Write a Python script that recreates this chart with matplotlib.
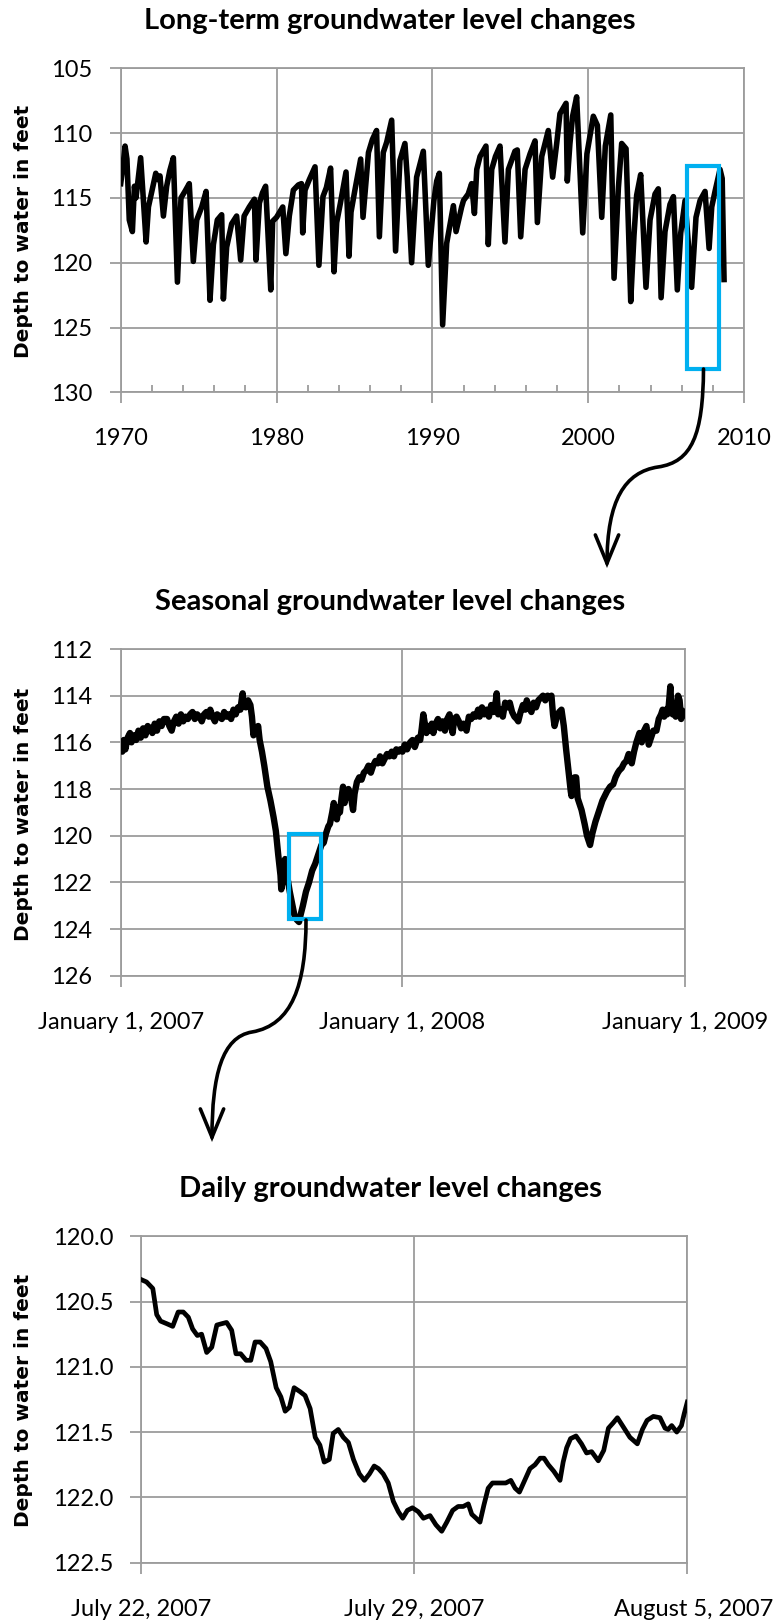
import numpy as np
import matplotlib
matplotlib.use('Agg')
import matplotlib.pyplot as plt
from matplotlib.path import Path
from matplotlib.patches import FancyArrowPatch, Rectangle
from matplotlib.ticker import MultipleLocator, FormatStrFormatter
import matplotlib.transforms as mtransforms

plt.rcParams['font.family'] = ['Lato', 'DejaVu Sans']

# ---------------- data ----------------
titles = ["Long-term groundwater level changes",
          "Seasonal groundwater level changes",
          "Daily groundwater level changes"]
ylabel = "Depth to water in feet"

# Panel 1: long-term (decimal year, depth to water in feet)
lt_year = [1970.00, 1970.15, 1970.28, 1970.40, 1970.55, 1970.75, 1970.88, 1970.98, 1971.28, 1971.63,
           1971.78, 1972.05, 1972.25, 1972.42, 1972.52, 1972.74, 1972.95, 1973.15, 1973.38, 1973.64,
           1973.87, 1974.12, 1974.40, 1974.66, 1974.88, 1975.20, 1975.48, 1975.73, 1975.95, 1976.20,
           1976.48, 1976.59, 1976.80, 1977.12, 1977.44, 1977.70, 1977.92, 1978.25, 1978.58, 1978.68,
           1978.90, 1979.10, 1979.30, 1979.63, 1979.75, 1980.00, 1980.40, 1980.60, 1980.82, 1981.08,
           1981.40, 1981.60, 1981.68, 1981.83, 1982.10, 1982.47, 1982.72, 1982.98, 1983.20, 1983.47,
           1983.69, 1983.86, 1984.10, 1984.46, 1984.65, 1984.78, 1985.03, 1985.40, 1985.55, 1985.90,
           1986.15, 1986.42, 1986.60, 1986.85, 1987.07, 1987.39, 1987.64, 1987.92, 1988.24, 1988.39,
           1988.67, 1988.99, 1989.42, 1989.74, 1990.10, 1990.28, 1990.45, 1990.66, 1990.92, 1991.13,
           1991.35, 1991.52, 1991.88, 1992.00, 1992.30, 1992.52, 1992.70, 1992.85, 1993.06, 1993.44,
           1993.59, 1993.81, 1994.05, 1994.34, 1994.66, 1994.88, 1995.30, 1995.45, 1995.67, 1995.95,
           1996.27, 1996.59, 1996.74, 1997.02, 1997.23, 1997.44, 1997.72, 1997.98, 1998.19, 1998.58,
           1998.66, 1998.83, 1999.00, 1999.26, 1999.65, 1999.92, 2000.33, 2000.59, 2000.87, 2001.10,
           2001.45, 2001.66, 2001.94, 2002.15, 2002.43, 2002.73, 2002.94, 2003.11, 2003.37, 2003.71,
           2003.97, 2004.29, 2004.50, 2004.68, 2004.93, 2005.25, 2005.47, 2005.72, 2005.94, 2006.22,
           2006.64, 2006.92, 2007.18, 2007.50, 2007.76, 2007.93, 2008.14, 2008.46, 2008.60, 2008.72]
lt_depth = [113.9, 112.5, 111.0, 112.0, 116.7, 117.6, 114.1, 115.0, 111.9, 118.4,
            115.7, 114.2, 113.1, 113.6, 113.3, 116.4, 114.1, 112.9, 111.9, 121.5,
            115.0, 114.5, 113.9, 119.9, 116.7, 115.7, 114.5, 122.9, 118.6, 116.7,
            116.3, 122.8, 118.8, 117.0, 116.4, 119.8, 116.4, 115.7, 115.1, 119.8,
            115.4, 114.6, 114.1, 122.1, 116.8, 116.5, 115.7, 119.3, 116.4, 114.4,
            114.0, 113.9, 117.7, 114.4, 113.6, 112.6, 120.2, 114.9, 114.2, 112.7,
            120.7, 116.9, 115.4, 113.0, 119.5, 116.1, 114.4, 112.0, 116.5, 111.5,
            110.5, 109.8, 118.0, 111.5, 110.7, 109.0, 119.1, 112.1, 110.8, 113.4,
            120.0, 113.4, 111.4, 120.2, 115.2, 113.7, 113.1, 124.8, 118.5, 117.1,
            115.6, 117.6, 115.7, 115.2, 114.7, 113.9, 116.2, 112.8, 111.8, 111.0,
            118.6, 112.8, 111.8, 111.0, 118.4, 112.8, 111.4, 111.3, 118.0, 112.8,
            111.6, 110.6, 116.9, 111.8, 110.8, 109.8, 113.4, 110.8, 108.5, 107.7,
            113.7, 110.8, 108.7, 107.2, 117.7, 111.6, 108.7, 109.4, 116.5, 111.0,
            108.6, 121.2, 114.2, 110.8, 111.2, 123.0, 117.9, 114.8, 113.2, 121.9,
            116.7, 114.7, 114.3, 122.7, 117.6, 115.5, 114.9, 122.1, 117.7, 115.2,
            121.9, 116.5, 115.2, 114.5, 118.9, 115.7, 114.5, 112.8, 113.5, 121.3]
lt_xticks = [1970, 1980, 1990, 2000, 2010]
lt_xlabels = ["1970", "1980", "1990", "2000", "2010"]

# Panel 2: seasonal (days since January 1, 2007, depth)
se_day = [0, 2, 4, 6, 9, 12, 14, 17, 20, 23, 26, 29, 32, 35, 38, 41, 44, 47, 50, 53, 56, 60, 63, 66, 69,
          72, 75, 78, 81, 84, 87, 90, 93, 96, 99, 102, 105, 108, 111, 114, 116, 119, 122, 125, 128, 131,
          134, 137, 140, 143, 146, 149, 152, 155, 157, 158, 159, 162, 165, 168, 170, 172, 174, 176, 178,
          180, 183, 186, 190, 194, 198, 201, 204, 207, 208, 210, 212, 213, 216, 219, 222, 225, 228, 231,
          233, 236, 240, 244, 248, 252, 256, 260, 263, 266, 269, 271, 274, 276, 278, 280, 282, 284, 286,
          288, 290, 292, 295, 298, 301, 303, 306, 309, 312, 315, 318, 321, 324, 327, 330, 333, 336, 339,
          342, 345, 348, 351, 354, 357, 360, 362, 365, 368, 371, 375, 378, 381, 385, 388, 390, 392, 394,
          396, 398, 401, 403, 405, 408, 411, 414, 417, 420, 423, 426, 428, 430, 432, 435, 438, 441, 444,
          448, 451, 454, 457, 460, 463, 465, 468, 471, 474, 477, 480, 483, 486, 487, 489, 492, 495, 498,
          501, 504, 507, 510, 513, 515, 518, 521, 524, 526, 529, 532, 535, 538, 541, 544, 547, 550, 553,
          556, 558, 560, 562, 565, 568, 571, 574, 577, 580, 583, 584, 586, 588, 590, 592, 594, 597, 601,
          604, 607, 608, 611, 615, 618, 621, 624, 627, 630, 634, 638, 641, 644, 646, 649, 652, 655, 658,
          660, 662, 665, 668, 670, 672, 675, 678, 681, 684, 687, 690, 694, 697, 700, 702, 704, 706, 708,
          710, 712, 713, 715, 717, 719, 722, 724, 726, 728, 730]
se_depth = [116.2, 116.4, 115.9, 116.3, 115.8, 115.6, 116.0, 115.7, 115.9, 115.5, 115.8, 115.4, 115.7,
            115.3, 115.4, 115.6, 115.2, 115.5, 115.1, 115.3, 115.0, 115.0, 115.3, 115.5, 115.1, 114.9,
            115.2, 114.8, 115.1, 114.9, 115.0, 114.8, 114.7, 115.0, 114.8, 114.9, 115.1, 114.8, 114.7,
            114.9, 114.6, 114.9, 115.1, 114.8, 114.9, 115.0, 114.7, 114.9, 114.8, 115.0, 114.6, 114.8,
            114.5, 114.6, 114.1, 113.9, 114.4, 114.5, 114.2, 114.4, 114.9, 115.7, 115.5, 115.6, 115.3,
            115.9, 116.4, 117.0, 117.9, 118.5, 119.2, 119.8, 120.8, 121.7, 122.3, 121.9, 121.1, 121.0,
            121.8, 122.4, 122.9, 123.4, 123.6, 123.7, 123.4, 123.0, 122.4, 122.0, 121.5, 121.2, 120.8,
            120.4, 120.3, 119.9, 119.6, 119.5, 119.0, 118.6, 118.9, 119.3, 118.8, 119.0, 118.4, 117.9,
            118.6, 118.2, 118.0, 118.3, 118.9, 118.2, 117.7, 117.5, 117.6, 117.3, 117.2, 117.0, 117.3,
            117.0, 116.8, 116.9, 116.6, 116.9, 116.7, 116.5, 116.6, 116.4, 116.6, 116.3, 116.4, 116.3,
            116.4, 116.1, 116.3, 116.0, 115.9, 116.2, 115.8, 115.9, 115.4, 114.8, 115.2, 115.6, 115.3,
            115.5, 115.2, 115.6, 115.2, 115.0, 115.4, 115.1, 115.5, 115.0, 114.8, 115.3, 115.6, 115.0,
            114.9, 115.1, 115.4, 115.2, 115.5, 114.9, 115.0, 114.8, 114.9, 114.6, 114.9, 114.5, 114.8,
            114.6, 114.9, 114.4, 114.7, 114.2, 113.9, 114.8, 114.6, 114.9, 114.3, 114.5, 114.3, 114.7,
            114.9, 115.0, 115.1, 114.7, 114.4, 114.6, 114.2, 114.5, 114.7, 114.3, 114.5, 114.2, 114.1,
            114.0, 114.2, 114.0, 114.1, 114.0, 114.8, 115.3, 114.9, 114.7, 114.6, 115.3, 116.3, 117.2,
            118.1, 118.3, 117.9, 117.5, 117.5, 118.4, 118.6, 118.9, 119.5, 120.0, 120.3, 120.4, 119.9,
            119.4, 119.1, 118.8, 118.5, 118.3, 118.1, 117.9, 117.8, 117.5, 117.3, 117.2, 117.1, 116.9,
            116.8, 116.5, 116.7, 116.9, 116.4, 116.0, 115.8, 115.6, 116.0, 115.5, 115.3, 116.1, 115.8,
            115.5, 115.5, 115.0, 114.8, 114.6, 114.9, 114.6, 114.8, 114.4, 113.6, 114.2, 114.8, 114.4,
            114.9, 114.0, 114.2, 115.0, 114.8, 114.7]
se_xticks = [0, 365, 731]
se_xlabels = ["January 1, 2007", "January 1, 2008", "January 1, 2009"]

# Panel 3: daily (days since July 22, 2007, depth)
da_day = [0.00, 0.15, 0.31, 0.41, 0.51, 0.67, 0.82, 0.96, 1.09, 1.22, 1.33, 1.45, 1.56, 1.69, 1.82,
          1.95, 2.07, 2.20, 2.33, 2.44, 2.56, 2.70, 2.82, 2.93, 3.06, 3.21, 3.33, 3.47, 3.59, 3.70,
          3.81, 3.93, 4.08, 4.21, 4.34, 4.47, 4.59, 4.70, 4.83, 4.93, 5.06, 5.19, 5.32, 5.45, 5.60,
          5.73, 5.86, 5.98, 6.09, 6.21, 6.34, 6.47, 6.60, 6.71, 6.83, 6.96, 7.11, 7.24, 7.41, 7.56,
          7.71, 7.84, 7.99, 8.13, 8.26, 8.39, 8.48, 8.59, 8.69, 8.79, 8.90, 9.01, 9.16, 9.35, 9.48,
          9.59, 9.70, 9.82, 9.97, 10.10, 10.23, 10.33, 10.44, 10.58, 10.74, 10.82, 10.91, 11.01, 11.15,
          11.29, 11.42, 11.55, 11.72, 11.86, 11.98, 12.10, 12.21, 12.36, 12.53, 12.72, 12.85, 12.97,
          13.13, 13.30, 13.43, 13.51, 13.60, 13.73, 13.85, 13.92, 14.00]
da_depth = [120.33, 120.35, 120.40, 120.60, 120.65, 120.67, 120.69, 120.58, 120.58, 120.62, 120.71,
            120.76, 120.75, 120.89, 120.85, 120.68, 120.67, 120.66, 120.72, 120.90, 120.90, 120.95,
            120.95, 120.81, 120.81, 120.86, 120.96, 121.16, 121.23, 121.34, 121.31, 121.16, 121.19,
            121.22, 121.32, 121.54, 121.60, 121.73, 121.71, 121.51, 121.48, 121.54, 121.58, 121.71,
            121.82, 121.87, 121.82, 121.76, 121.78, 121.82, 121.89, 122.03, 122.11, 122.16, 122.10,
            122.08, 122.11, 122.16, 122.14, 122.21, 122.26, 122.19, 122.10, 122.07, 122.07, 122.05,
            122.13, 122.16, 122.19, 122.06, 121.93, 121.89, 121.89, 121.89, 121.87, 121.93, 121.96,
            121.88, 121.78, 121.75, 121.70, 121.70, 121.75, 121.80, 121.87, 121.73, 121.62, 121.55,
            121.53, 121.59, 121.66, 121.65, 121.72, 121.64, 121.47, 121.43, 121.39, 121.46, 121.54,
            121.59, 121.48, 121.41, 121.38, 121.39, 121.47, 121.48, 121.45, 121.50, 121.45, 121.36,
            121.27]
da_xticks = [0, 7, 14]
da_xlabels = ["July 22, 2007", "July 29, 2007", "August 5, 2007"]

# zoom boxes (data units of the panel they sit on)
box1 = (2006.36, 2008.40, 112.54, 128.2)
box2 = (218.4, 259.1, 119.94, 123.57)

# ---------------- figure ----------------
W, H = 776, 1621
fig = plt.figure(figsize=(W / 100, H / 100), dpi=100)
fig.patch.set_facecolor('white')

GRID = '#9c9c9c'
BLUE = '#00B0F0'
TICK_FS = 17
TITLE_FS = 21
YLAB_FS = 14.5


def rect(l, t, r, b):
    return [l / W, 1 - b / H, (r - l) / W, (b - t) / H]


def style(ax, ypad):
    ax.set_facecolor('white')
    for s in ax.spines.values():
        s.set_color(GRID)
        s.set_linewidth(1.3)
    ax.grid(True, which='major', color=GRID, linewidth=1.3)
    ax.set_axisbelow(True)
    ax.tick_params(axis='both', which='major', direction='out', length=8, width=1.3,
                   color=GRID, labelsize=TICK_FS, labelcolor='black')
    ax.tick_params(axis='y', pad=ypad)
    ax.tick_params(axis='x', pad=18)


def title(ybase_px, text):
    fig.text(390 / W, 1 - ybase_px / H, text, ha='center', va='baseline',
             fontsize=TITLE_FS, fontweight='bold', color='black')


def ylab(ycenter_px):
    fig.text(23.3 / W, 1 - ycenter_px / H, ylabel, rotation=90, ha='center', va='center',
             fontsize=YLAB_FS, fontweight='bold', family=['DejaVu Sans'], color='black')


# Panel 1
ax1 = fig.add_axes(rect(120.7, 68.3, 744, 392.3))
style(ax1, 12.5)
ax1.plot(lt_year, lt_depth, color='black', lw=4.0, solid_joinstyle='round', zorder=3)
ax1.set_xlim(1970, 2010)
ax1.set_ylim(130, 105)
ax1.set_yticks([105, 110, 115, 120, 125, 130])
ax1.set_xticks(lt_xticks)
ax1.set_xticklabels(lt_xlabels)
ax1.xaxis.set_minor_locator(MultipleLocator(2))
ax1.tick_params(axis='x', which='minor', direction='in', length=5, width=1.3, color=GRID)
ax1.add_patch(Rectangle((box1[0], box1[2]), box1[1] - box1[0], box1[3] - box1[2],
                        fill=False, edgecolor=BLUE, lw=3, zorder=5, clip_on=False))
title(29.3, titles[0])
ylab(231)

# Panel 2
ax2 = fig.add_axes(rect(120.7, 649, 685, 975.7))
style(ax2, 12.5)
ax2.plot(se_day, se_depth, color='black', lw=4.6, solid_joinstyle='round', zorder=3)
ax2.set_xlim(0, 731)
ax2.set_ylim(126, 112)
ax2.set_yticks(list(range(112, 127, 2)))
ax2.set_xticks(se_xticks)
ax2.set_xticklabels(se_xlabels)
ax2.add_patch(Rectangle((box2[0], box2[2]), box2[1] - box2[0], box2[3] - box2[2],
                        fill=False, edgecolor=BLUE, lw=3, zorder=5, clip_on=False))
title(610, titles[1])
ylab(814)

# Panel 3
ax3 = fig.add_axes(rect(140.7, 1236.3, 687.3, 1562.6))
style(ax3, 11.5)
ax3.plot(da_day, da_depth, color='black', lw=3.4, solid_joinstyle='round', zorder=3)
ax3.set_xlim(0, 14)
ax3.set_ylim(122.5, 120.0)
ax3.set_yticks([120.0, 120.5, 121.0, 121.5, 122.0, 122.5])
ax3.yaxis.set_major_formatter(FormatStrFormatter('%.1f'))
ax3.set_xticks(da_xticks)
ax3.set_xticklabels(da_xlabels)
title(1196.7, titles[2])
ylab(1400)

fig.canvas.draw()
# the last daily label sits slightly right of its tick in the original
lab = ax3.get_xticklabels()[-1]
lab.set_transform(lab.get_transform() + mtransforms.ScaledTranslation(6 / 100, 0, fig.dpi_scale_trans))


# curved arrows (pixel coords measured from top-left)
def curved_arrow(pts):
    verts = [(x / W, 1 - y / H) for x, y in pts]
    codes = [Path.MOVETO] + [Path.CURVE4] * (len(pts) - 1)
    p = FancyArrowPatch(path=Path(verts, codes), arrowstyle='->,head_length=1.7,head_width=0.7',
                        mutation_scale=12, lw=2.6, color='black', transform=fig.transFigure,
                        capstyle='round', joinstyle='miter')
    fig.add_artist(p)


curved_arrow([(703.5, 369), (703, 435), (692, 462), (658, 467),
              (625, 472), (607, 500), (607, 568)])
curved_arrow([(306, 920), (306, 985), (292, 1025), (252, 1032),
              (222, 1037), (212, 1075), (212, 1142)])

fig.savefig('out.png', dpi=100, facecolor='white')
